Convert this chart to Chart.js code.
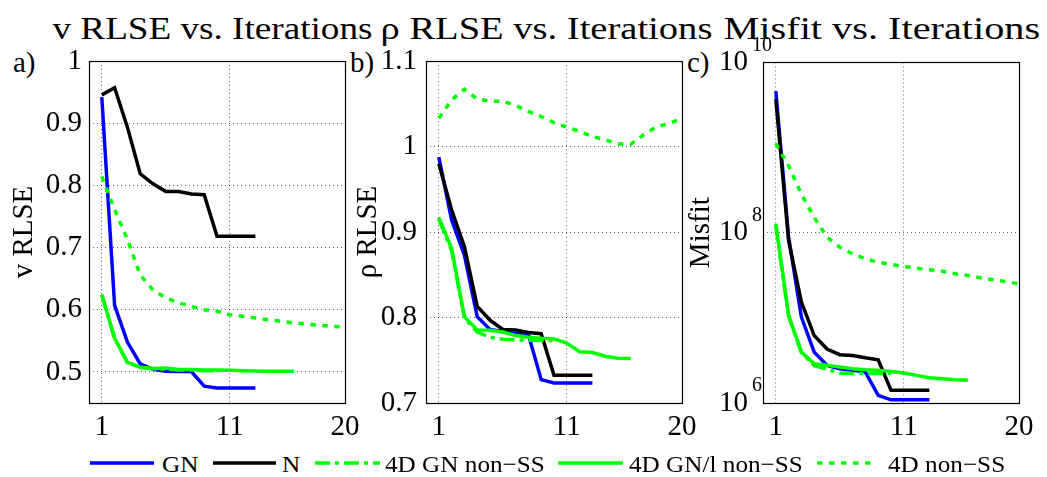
<!DOCTYPE html>
<html><head><meta charset="utf-8">
<script src="https://cdn.jsdelivr.net/npm/chart.js@4.4.0/dist/chart.umd.min.js"></script>
<style>
html,body{margin:0;padding:0;background:#fff;}
#root{position:relative;width:1047px;height:477px;overflow:hidden;font-family:'Liberation Serif','Times New Roman',serif;color:#000;}
canvas{position:absolute;}
.title{position:absolute;top:13px;display:inline-block;font-size:31px;line-height:31px;white-space:nowrap;transform-origin:50% 50%;}
.letter{position:absolute;top:47.7px;font-size:29px;line-height:29px;white-space:nowrap;}
.legline{position:absolute;top:460px;height:6px;}
.legtext{position:absolute;top:452px;font-size:24px;line-height:24px;white-space:nowrap;transform-origin:0 50%;transform:scaleX(1.05);}
</style></head>
<body><div id="root">
<div id="titles"></div>
<div class="letter" style="left:13px">a)</div>
<div class="letter" style="left:350px">b)</div>
<div class="letter" style="left:687px">c)</div>
<canvas id="ca" width="370" height="418" style="left:0px;top:30px"></canvas>
<canvas id="cb" width="370" height="418" style="left:337px;top:30px"></canvas>
<canvas id="cc" width="370" height="418" style="left:674px;top:30px"></canvas>
<div id="legend"></div>
</div>
<script>
// ---------- data ----------
const iterations = [1,2,3,4,5,6,7,8,9,10,11,12,13,14,15,16,17,18,19,20];
const xTicks = [1, 11, 20];
const vTicks = [0.5, 0.6, 0.7, 0.8, 0.9, 1];
const rhoTicks = [0.7, 0.8, 0.9, 1, 1.1];
const misfitTicks = [1e6, 1e8, 1e10];
const seriesNames = ['GN', 'N', '4D GN non\u2212SS', '4D GN/l non\u2212SS', '4D non\u2212SS'];
const titles = ['v RLSE vs. Iterations', 'ρ RLSE vs. Iterations', 'Misfit vs. Iterations'];
const yLabels = ['v RLSE', 'ρ RLSE', 'Misfit'];

const vGN    = [0.942,0.607,0.548,0.513,0.504,0.501,0.5005,0.5005,0.477,0.4743,0.4743,0.4743,0.4743];
const vN     = [0.9455,0.957,0.8936,0.8186,0.8025,0.790,0.790,0.786,0.785,0.718,0.718,0.718,0.718];
const v4DGN  = [0.624,0.554,0.515,0.507,0.505,0.504,0.503,0.503,0.502,0.502];
const v4DGNl = [0.6242,0.5546,0.5155,0.5075,0.5054,0.5064,0.5037,0.5037,0.503,0.503,0.5025,0.502,0.5015,0.501,0.501,0.501];
const v4D    = [0.8143,0.761,0.713,0.656,0.632,0.619,0.611,0.6055,0.600,0.5975,0.592,0.5894,0.5867,0.584,0.5814,0.5787,0.577,0.575,0.5734,0.5723];

const rGN    = [0.9875,0.9141,0.873,0.801,0.786,0.7836,0.7816,0.78,0.7273,0.7234,0.7234,0.7234,0.7234];
const rN     = [0.980,0.926,0.883,0.813,0.797,0.786,0.7855,0.7824,0.781,0.7324,0.7324,0.7324,0.7324];
const r4DGN  = [0.915,0.878,0.80,0.783,0.777,0.7745,0.7738,0.7733,0.773,0.773];
const r4DGNl = [0.917,0.881,0.801,0.7855,0.785,0.783,0.779,0.777,0.7758,0.775,0.770,0.760,0.759,0.7547,0.7523,0.752];
const r4D    = [1.033,1.0545,1.067,1.0555,1.053,1.053,1.048,1.041,1.035,1.028,1.0227,1.0176,1.0117,1.0078,1.003,1.0027,1.0137,1.023,1.027,1.033];

const mGN    = [4.6e9,8.9e7,1.02e7,3.96e6,2.77e6,2.53e6,2.42e6,2.31e6,1.23e6,1.09e6,1.09e6,1.09e6,1.09e6];
const mN     = [3.7e9,8.1e7,1.53e7,6.2e6,4.3e6,3.69e6,3.62e6,3.4e6,3.22e6,1.41e6,1.41e6,1.41e6,1.41e6];
const m4DGN  = [1.2e8,1.05e7,3.9e6,2.75e6,2.5e6,2.25e6,2.22e6,2.22e6,2.22e6,2.22e6];
const m4DGNl = [1.27e8,1.07e7,3.96e6,2.89e6,2.77e6,2.64e6,2.53e6,2.46e6,2.42e6,2.35e6,2.25e6,2.11e6,1.98e6,1.93e6,1.88e6,1.85e6];
const m4D    = [1.12e9,6.1e8,2.85e8,1.51e8,8.85e7,6.76e7,5.65e7,4.93e7,4.5e7,4.24e7,4.01e7,3.84e7,3.67e7,3.53e7,3.29e7,3.15e7,2.95e7,2.8e7,2.67e7,2.5e7];

// ---------- styles ----------
const FONT = "'Liberation Serif','Times New Roman',serif";
const seriesColors = ['#0000ff', '#000000', '#00ff00', '#00ff00', '#00ff00'];
const seriesDash = [[], [], [15,5,4,5], [], [5.5,6.5]];

// titles (reference text is horizontally widened)
const titleCenters = [212, 546, 881.5];
const titleWidths = [320, 332, 317];
const tdiv = document.getElementById('titles');
titles.forEach((t, i) => {
  const s = document.createElement('span');
  s.className = 'title'; s.textContent = t;
  tdiv.appendChild(s);
  const w = s.offsetWidth;
  s.style.left = (titleCenters[i] - w / 2) + 'px';
  s.style.transform = 'scaleX(' + (titleWidths[i] / w) + ')';
});

const boxPlugin = {
  id: 'box',
  afterDraw(chart) {
    const a = chart.chartArea, ctx = chart.ctx;
    ctx.save();
    ctx.strokeStyle = '#000'; ctx.lineWidth = 1.2; ctx.setLineDash([]);
    ctx.strokeRect(Math.round(a.left)+0.5, Math.round(a.top)+0.5, Math.round(a.right-a.left), Math.round(a.bottom-a.top));
    ctx.restore();
  }
};
const expPlugin = {
  id: 'expLabels',
  afterDraw(chart) {
    const s = chart.scales.y, ctx = chart.ctx;
    ctx.save();
    ctx.font = '20px ' + FONT; ctx.fillStyle = '#000';
    ctx.textAlign = 'left'; ctx.textBaseline = 'middle';
    s.ticks.forEach(t => {
      const y = s.getPixelForValue(t.value);
      ctx.fillText(String(Math.round(Math.log10(t.value))), s.right - 15 + 4, y - 17);
    });
    ctx.restore();
  }
};

function makeChart(id, seriesList, yCfg) {
  const datasets = seriesList.map((vals, i) => ({
    label: seriesNames[i],
    data: vals.map((v, k) => ({x: iterations[k], y: v})),
    borderColor: seriesColors[i],
    backgroundColor: seriesColors[i],
    borderDash: seriesDash[i],
    borderWidth: 3.5,
    borderCapStyle: 'butt',
    pointRadius: 0,
    tension: 0,
    fill: false,
    order: seriesList.length - i
  }));
  const tickFont = {family: FONT, size: 29};
  return new Chart(document.getElementById(id), {
    type: 'line',
    data: {datasets},
    plugins: yCfg.log ? [boxPlugin, expPlugin] : [boxPlugin],
    options: {
      responsive: false, animation: false, devicePixelRatio: 1,
      layout: {padding: {left: 0, top: 31, right: 25, bottom: 0}},
      plugins: {legend: {display: false}, tooltip: {enabled: false}, title: {display: false}},
      scales: {
        x: {
          type: 'linear', min: 0, max: 20,
          afterBuildTicks: s => { s.ticks = xTicks.map(v => ({value: v})); },
          afterFit: s => { s.height = 45; },
          ticks: {font: tickFont, color: '#000', padding: 7, maxRotation: 0, autoSkip: false,
                  callback: v => String(v)},
          grid: {color: 'rgba(0,0,0,0.6)', lineWidth: 1, drawTicks: false},
          border: {display: false, dash: [1,3]}
        },
        y: {
          type: yCfg.log ? 'logarithmic' : 'linear', min: yCfg.min, max: yCfg.max,
          afterBuildTicks: s => { s.ticks = yCfg.ticks.map(v => ({value: v})); },
          afterFit: s => { s.width = 89; },
          ticks: {font: tickFont, color: '#000', padding: yCfg.pad, autoSkip: false,
                  callback: v => yCfg.log ? '10' : String(v)},
          grid: {color: 'rgba(0,0,0,0.6)', lineWidth: 1, drawTicks: false},
          border: {display: false, dash: [1,3]},
          title: {display: true, text: yCfg.label, color: '#000', font: {family: FONT, size: 29},
                  padding: {top: yCfg.tpad, bottom: 0}}
        }
      }
    }
  });
}

makeChart('ca', [vGN, vN, v4DGN, v4DGNl, v4D], {min: 0.45, max: 1, ticks: vTicks, pad: 7, label: yLabels[0], tpad: 7});
makeChart('cb', [rGN, rN, r4DGN, r4DGNl, r4D], {min: 0.7, max: 1.1, ticks: rhoTicks, pad: 9, label: yLabels[1], tpad: 13.6});
makeChart('cc', [mGN, mN, m4DGN, m4DGNl, m4D], {log: true, min: 1e6, max: 1e10, ticks: misfitTicks, pad: 15, label: yLabels[2], tpad: 9.6});

// ---------- legend ----------
const legendPos = [[90, 64, 162], [213, 63, 282], [315, 65, 385], [558, 65, 629], [817, 60, 888]];
const leg = document.getElementById('legend');
seriesNames.forEach((name, i) => {
  const [lx, lw, tx] = legendPos[i];
  const ns = 'http://www.w3.org/2000/svg';
  const svg = document.createElementNS(ns, 'svg');
  svg.setAttribute('class', 'legline');
  svg.setAttribute('width', lw); svg.setAttribute('height', 6);
  svg.style.left = lx + 'px';
  const ln = document.createElementNS(ns, 'line');
  ln.setAttribute('x1', 0); ln.setAttribute('x2', lw); ln.setAttribute('y1', 3); ln.setAttribute('y2', 3);
  ln.setAttribute('stroke', seriesColors[i]); ln.setAttribute('stroke-width', 3.3);
  if (seriesDash[i].length) ln.setAttribute('stroke-dasharray', seriesDash[i].join(' '));
  svg.appendChild(ln);
  leg.appendChild(svg);
  const t = document.createElement('div');
  t.className = 'legtext'; t.style.left = tx + 'px'; t.textContent = name;
  leg.appendChild(t);
});
</script>
</body></html>
